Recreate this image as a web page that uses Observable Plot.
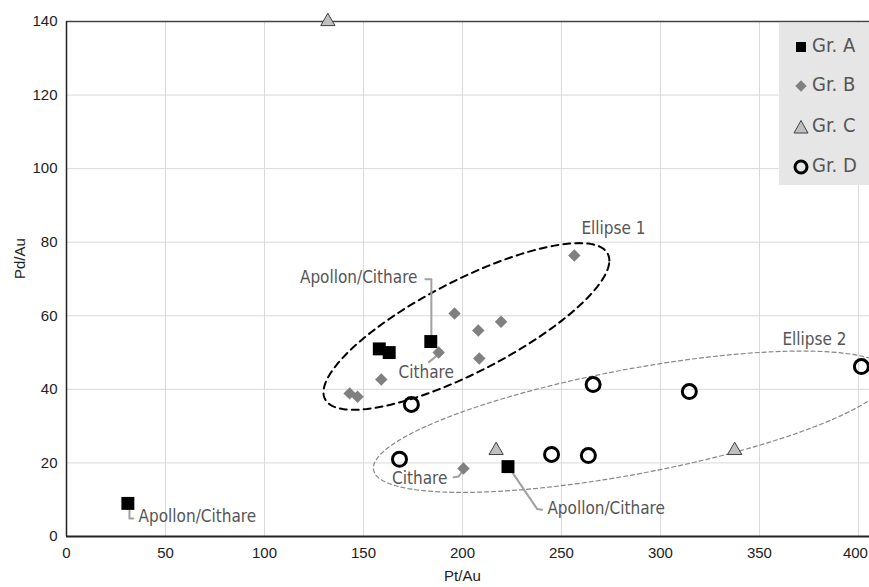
<!DOCTYPE html>
<html><head><meta charset="utf-8">
<script src="https://cdn.jsdelivr.net/npm/d3@7"></script>
<script src="https://cdn.jsdelivr.net/npm/@observablehq/plot@0.6"></script>
<style>
body{margin:0;background:#fff}
#wrap{position:relative;width:869px;height:587px;overflow:hidden}
#legend{position:absolute;left:779px;top:23px;width:90px;height:162px;background:#e6e6e6}
.li{position:absolute;left:0;height:30px;width:90px}
.li svg{position:absolute;left:14px;top:7px}
.li span{position:absolute;left:33px;top:1px;font-family:"Liberation Sans Narrow","DejaVu Sans Condensed",sans-serif;font-size:20px;color:#555;line-height:24px}
</style></head>
<body><div id="wrap"></div>
<script>
// ---- data ----
const xTicks = [0, 50, 100, 150, 200, 250, 300, 350, 400];
const yTicks = [0, 20, 40, 60, 80, 100, 120, 140];
const groups = ["Gr. A", "Gr. B", "Gr. C", "Gr. D"];
const grA_x = [31, 158, 163, 184, 223];
const grA_y = [9, 51, 50, 53, 19];
const grB_x = [256.5, 196, 208, 219.5, 208.5, 188, 159, 143, 147, 200.5];
const grB_y = [76.4, 60.6, 56, 58.4, 48.4, 50, 42.7, 38.9, 38, 18.5];
const grC_x = [132, 217, 337.5];
const grC_y = [140, 23.4, 23.4];
const grD_x = [174.2, 168.2, 245, 263.6, 266, 314.6, 401.5];
const grD_y = [35.9, 21, 22.3, 22, 41.3, 39.4, 46.2];
// ellipses: centre and two conjugate semi-diameters (data units)
const ellipseNames = ["Ellipse 1", "Ellipse 2"];
const ellCx = [202.0, 285.6], ellCy = [57.1, 31.2];
const ellPx = [72.2, 130.6], ellPy = [17.9, 12.6];
const ellQx = [0, 0], ellQy = [13.9, 14.5];
// annotations
const annText = ["Apollon/Cithare", "Cithare", "Cithare", "Apollon/Cithare", "Apollon/Cithare", "Ellipse 1", "Ellipse 2"];
const annX = [177.3, 167.7, 192.4, 242.9, 36.4, 260.1, 361.6];
const annY = [70.5, 44.7, 15.7, 7.5, 5.5, 83.6, 53.5];
const annAnchor = ["end", "start", "end", "start", "start", "start", "start"];
// leader lines (polylines, data units)
const leaderX = [[181.3, 184.3, 184.3], [187.2, 183], [195.6, 198, 199.5], [225.1, 237.7, 240.2], [31.8, 31.8, 33.7]];
const leaderY = [[69.9, 69.9, 54.8], [49.2, 47.4], [16.1, 16.3, 17.4], [17.5, 7.5, 7.3], [7.1, 4.9, 4.9]];

// ---- build tables ----
const pts = (xs, ys) => xs.map((x, i) => ({x, y: ys[i]}));
const ellPts = ellipseNames.map((n, k) => d3.range(0, 181).map(i => {
  const t = i / 180 * 2 * Math.PI;
  return {x: ellCx[k] + Math.cos(t) * ellPx[k] + Math.sin(t) * ellQx[k],
          y: ellCy[k] + Math.cos(t) * ellPy[k] + Math.sin(t) * ellQy[k]};
}));
const leaders = leaderX.flatMap((xs, k) => xs.map((x, i) => ({k, x, y: leaderY[k][i]})));
const ann = annText.map((t, i) => ({t, x: annX[i], y: annY[i], a: annAnchor[i]}));
const narrow = '"Liberation Sans Narrow","DejaVu Sans Condensed",sans-serif';

const chart = Plot.plot({
  width: 869, height: 587,
  marginTop: 21, marginBottom: 51, marginLeft: 66, marginRight: 0,
  x: {domain: [0, 405.6]},
  y: {domain: [0, 140]},
  style: {fontFamily: '"Liberation Sans","DejaVu Sans",sans-serif', fontSize: "15px", color: "#222", background: "#fff"},
  marks: [
    Plot.gridX(xTicks.filter(d => d > 0), {stroke: "#d9d9d9", strokeOpacity: 1}),
    Plot.gridY(yTicks.filter(d => d > 0 && d < 140), {stroke: "#d9d9d9", strokeOpacity: 1}),
    Plot.axisX(xTicks.filter(d => d < 400), {tickSize: 0, tickPadding: 11, label: null, fontSize: 15}),
    Plot.axisX(xTicks.filter(d => d >= 400), {tickSize: 0, tickPadding: 11, label: null, fontSize: 15, dx: -3}),
    Plot.axisY(yTicks, {tickSize: 0, tickPadding: 9, label: null, fontSize: 15}),
    Plot.ruleY([140], {stroke: "#444", strokeWidth: 1.5}),
    Plot.ruleY([0], {stroke: "#222", strokeWidth: 2}),
    Plot.ruleX([0], {stroke: "#222", strokeWidth: 1.5}),
    Plot.text(["Pt/Au"], {x: () => 200, frameAnchor: "bottom", dy: 44, text: d => d, fontSize: 15}),
    Plot.text(["Pd/Au"], {y: () => 70, frameAnchor: "left", dx: -46, rotate: -90, text: d => d, fontSize: 15}),
    Plot.line(ellPts[0], {x: "x", y: "y", stroke: "#000", strokeWidth: 2, strokeDasharray: "7,5"}),
    Plot.line(ellPts[1], {x: "x", y: "y", stroke: "#888", strokeWidth: 1.2, strokeDasharray: "4,3"}),
    Plot.line(leaders, {x: "x", y: "y", z: "k", stroke: "#a0a0a0", strokeWidth: 2}),
    Plot.dot(pts(grB_x, grB_y), {x: "x", y: "y", symbol: "diamond2", r: 5.6, fill: "#808080"}),
    Plot.dot(pts(grC_x, grC_y), {x: "x", y: "y", symbol: "triangle", r: 5.3, fill: "#bfbfbf", stroke: "#404040", strokeWidth: 1}),
    Plot.dot(pts(grD_x, grD_y), {x: "x", y: "y", symbol: "circle", r: 7, fill: "none", stroke: "#000", strokeWidth: 3}),
    Plot.dot(pts(grA_x, grA_y), {x: "x", y: "y", symbol: "square", r: 7.3, fill: "#000"}),
    Plot.text(ann.filter(d => d.a === "start"), {x: "x", y: "y", text: "t", textAnchor: "start", fill: "#555", fontSize: 17, fontFamily: narrow}),
    Plot.text(ann.filter(d => d.a === "end"), {x: "x", y: "y", text: "t", textAnchor: "end", fill: "#555", fontSize: 17, fontFamily: narrow})
  ]
});
const wrap = document.getElementById("wrap");
wrap.appendChild(chart);

// legend
const sym = {
  "Gr. A": '<rect x="3" y="3" width="10" height="10" fill="#000"/>',
  "Gr. B": '<rect x="4" y="4" width="8" height="8" fill="#808080" transform="rotate(45 8 8)"/>',
  "Gr. C": '<path d="M8 1.5 L15 14 L1 14 Z" fill="#bfbfbf" stroke="#404040" stroke-width="1"/>',
  "Gr. D": '<circle cx="8" cy="8" r="6" fill="none" stroke="#000" stroke-width="3"/>'
};
const legTop = [9, 48, 89, 129];
const leg = document.createElement("div");
leg.id = "legend";
groups.forEach((g, i) => {
  const row = document.createElement("div");
  row.className = "li";
  row.style.top = legTop[i] + "px";
  row.innerHTML = `<svg width="16" height="16">${sym[g]}</svg><span>${g}</span>`;
  leg.appendChild(row);
});
wrap.appendChild(leg);
</script></body></html>
